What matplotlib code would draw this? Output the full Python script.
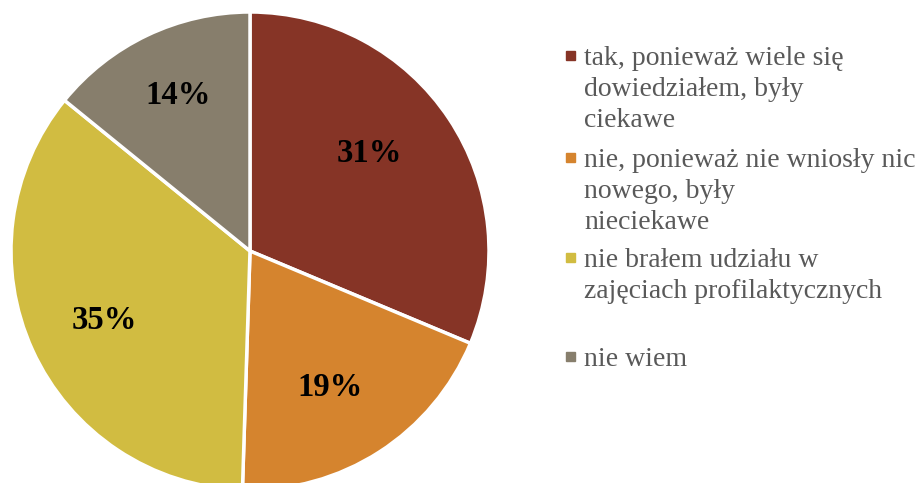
import matplotlib.pyplot as plt
import matplotlib.patches as mpatches

plt.rcParams['font.family'] = ['Liberation Serif', 'DejaVu Serif']

# data
values = [31, 19, 35, 14]
pct_labels = ['31%', '19%', '35%', '14%']
colors = ['#863426', '#D5842E', '#D1BC41', '#877E6C']
legend_lines = [
    ['tak, ponieważ wiele się', 'dowiedziałem, były', 'ciekawe'],
    ['nie, ponieważ nie wniosły nic', 'nowego, były', 'nieciekawe'],
    ['nie brałem udziału w', 'zajęciach profilaktycznych'],
    ['nie wiem'],
]

W, H = 922, 483
fig = plt.figure(figsize=(W / 100, H / 100), dpi=100)

# pie axes: center (250, 251) px, radius 239 px
cx, cy, r = 250, 251, 239
ax = fig.add_axes([(cx - r) / W, (H - cy - r) / H, 2 * r / W, 2 * r / H])
wedges, _ = ax.pie(values, colors=colors, startangle=90, counterclock=False,
                   radius=1, wedgeprops=dict(edgecolor='white', linewidth=2.5))
ax.set_xlim(-1, 1)
ax.set_ylim(-1, 1)
ax.set_aspect('equal')
ax.axis('off')

# label spots (excel best-fit placement), in radius units
label_spots = [(0.50, 0.41), (0.335, -0.57), (-0.61, -0.29), (-0.30, 0.65)]
for (lx, ly), txt in zip(label_spots, pct_labels):
    ax.text(lx, ly, txt, ha='center', va='center', fontsize=23.5,
            fontweight='bold', color='black')

# legend drawn by hand
entry_base = [65, 167, 267, 366]
step = 31
for i, lines in enumerate(legend_lines):
    b = entry_base[i]
    sq = mpatches.Rectangle(((566) / W, (H - (b - 5)) / H), 9 / W, 9 / H,
                            transform=fig.transFigure, color=colors[i])
    fig.patches.append(sq)
    for j, line in enumerate(lines):
        fig.text(584 / W, (H - (b + j * step)) / H, line, ha='left',
                 va='baseline', fontsize=20, color='#595959')

fig.savefig('out.png', dpi=100)
